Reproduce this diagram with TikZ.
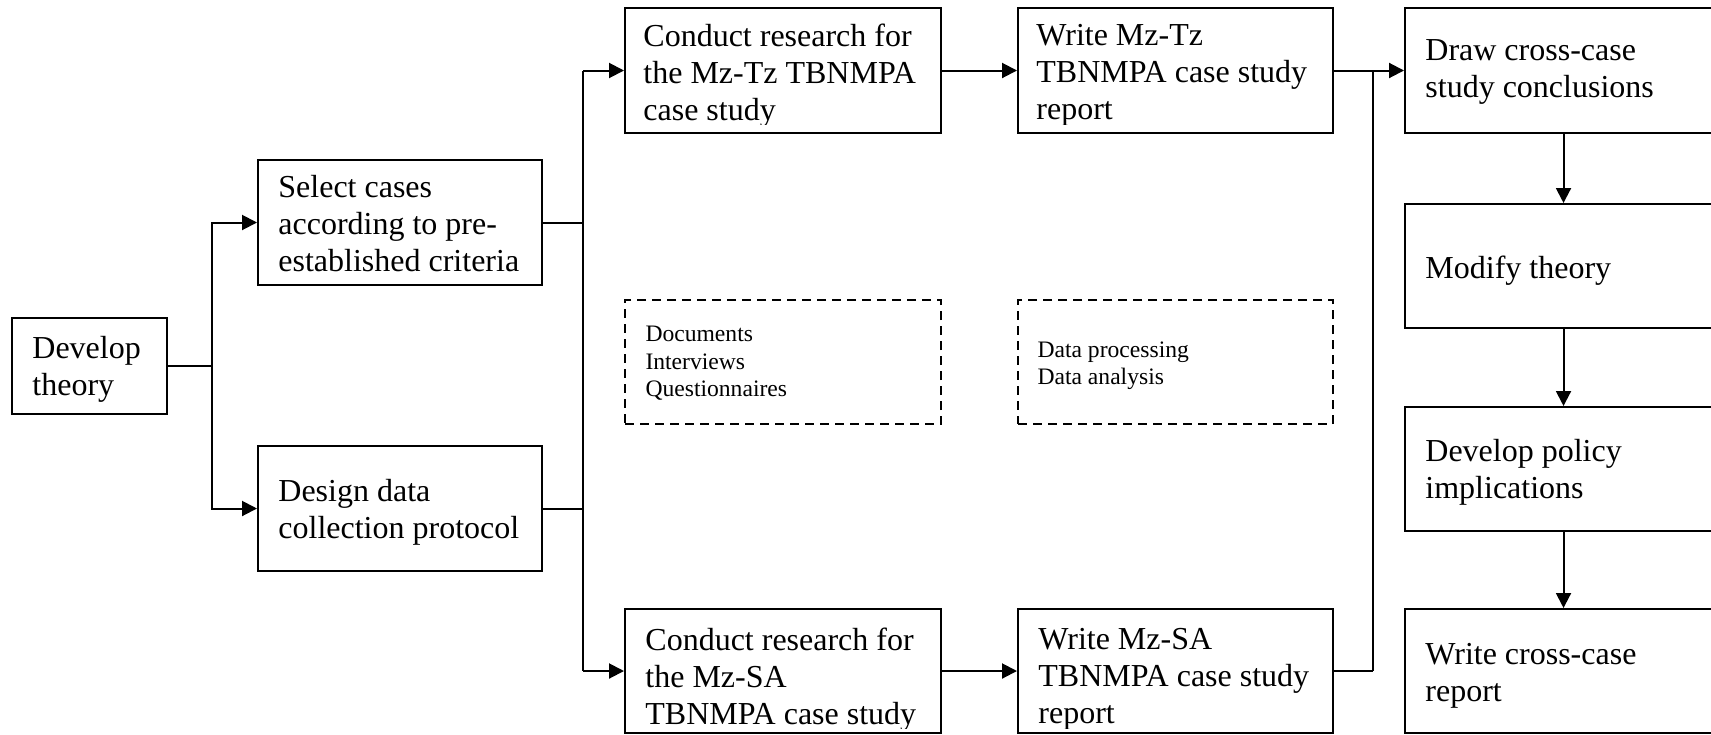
\documentclass[tikz,border=0pt]{standalone}
\usepackage{fontspec}
\setmainfont{Liberation Serif}
\usetikzlibrary{arrows.meta,fit,calc}
\begin{document}
\begin{tikzpicture}[x=0.5pt,y=-0.5pt,
  box/.style={draw, line width=1pt, inner sep=0pt},
  dbox/.style={box, line width=0.9pt, dash pattern=on 4.5pt off 3pt},
  txt/.style={inner sep=0pt, anchor=north west, align=left,
    font=\fontsize{16pt}{18.5pt}\selectfont},
  stxt/.style={txt, font=\fontsize{11.8pt}{13.75pt}\selectfont},
  link/.style={line width=1pt},
  arr/.style={link, -{Triangle[length=7.5pt,width=7.5pt]}}
]
\useasboundingbox (0,0) rectangle (1711,734);

% --- boxes ---
\node[box, fit={(12,318) (167,414)}] (dev) {};
\node[box, fit={(258,160) (542,285)}] (sel) {};
\node[box, fit={(258,446) (542,571)}] (des) {};
\node[box, fit={(625,8) (941,133)}] (ct) {};
\node[box, fit={(1018,8) (1333,133)}] (wt) {};
\node[box, fit={(625,609) (941,733)}] (cb) {};
\node[box, fit={(1018,609) (1333,733)}] (wb) {};
\node[dbox, fit={(625,300) (941,424)}] (d1) {};
\node[dbox, fit={(1018,300) (1333,424)}] (d2) {};
\node[box, fit={(1405,8) (1722,133)}] (dr) {};
\node[box, fit={(1405,204) (1722,328)}] (mod) {};
\node[box, fit={(1405,407) (1722,531)}] (pol) {};
\node[box, fit={(1405,609) (1722,733)}] (wcr) {};

% --- box texts ---
\node[txt] (devT) at ($(dev.north west)+(21,19)$) {Develop\\theory};
\node[txt] (selT) at ($(sel.north west)+(21,16)$) {Select cases\\according to pre-\\established criteria};
\node[txt] (desT) at ($(des.north west)+(21,34)$) {Design data\\collection protocol};
% text of the four case-study boxes is cut off at the inner bottom margin
\begin{scope}
  \clip ($(ct.south west)+(0,-10)$) rectangle (ct.north east);
  \node[txt] (ctT) at ($(ct.north west)+(19,17)$) {Conduct research for\\the Mz-Tz TBNMPA\\case study};
\end{scope}
\begin{scope}
  \clip ($(wt.south west)+(0,-10)$) rectangle (wt.north east);
  \node[txt] (wtT) at ($(wt.north west)+(19,17)$) {Write Mz-Tz\\TBNMPA case study\\report};
\end{scope}
\begin{scope}
  \clip ($(cb.south west)+(0,-6)$) rectangle (cb.north east);
  \node[txt] (cbT) at ($(cb.north west)+(21,20)$) {Conduct research for\\the Mz-SA\\TBNMPA case study};
\end{scope}
\begin{scope}
  \clip ($(wb.south west)+(0,-6)$) rectangle (wb.north east);
  \node[txt] (wbT) at ($(wb.north west)+(21,20)$) {Write Mz-SA\\TBNMPA case study\\report};
\end{scope}
\node[stxt] (d1T) at ($(d1.north west)+(21,27)$) {Documents\\Interviews\\Questionnaires};
\node[stxt] (d2T) at ($(d2.north west)+(20,42)$) {Data processing\\Data analysis};
\node[txt] (drT) at ($(dr.north west)+(21,32)$) {Draw cross-case\\study conclusions};
\node[txt] (modT) at ($(mod.north west)+(21,53)$) {Modify theory};
\node[txt] (polT) at ($(pol.north west)+(21,33)$) {Develop policy\\implications};
\node[txt] (wcrT) at ($(wcr.north west)+(21,35)$) {Write cross-case\\report};

% --- connectors: theory to the two preparation steps ---
\coordinate (j1) at ($(dev.east)+(44,0)$);
\draw[link] (dev.east) -- (j1);
\draw[arr] (j1) |- (sel.west);
\draw[arr] (j1) |- (des.west);

% --- preparation steps to the two case studies ---
\coordinate (b1t) at ($(ct.west)+(-41,0)$);
\coordinate (b1b) at ($(cb.west)+(-41,0)$);
\draw[link] (sel.east) -- (sel.east -| b1t);
\draw[link] (des.east) -- (des.east -| b1t);
\draw[link] (b1t) -- (b1b);
\draw[arr] (b1t) -- (ct.west);
\draw[arr] (b1b) -- (cb.west);

% --- research to report ---
\draw[arr] (ct.east) -- (wt.west);
\draw[arr] (cb.east) -- (wb.west);

% --- reports to cross-case conclusions ---
\coordinate (b2t) at ($(wt.east)+(39,0)$);
\coordinate (b2b) at ($(wb.east)+(39,0)$);
\draw[link] (wt.east) -- (b2t);
\draw[link] (wb.east) -- (b2b);
\draw[link] (b2t) -- (b2b);
\draw[arr] (b2t) -- (dr.west);

% --- cross-case chain ---
\draw[arr] (dr.south) -- (mod.north);
\draw[arr] (mod.south) -- (pol.north);
\draw[arr] (pol.south) -- (wcr.north);
\end{tikzpicture}
\end{document}
